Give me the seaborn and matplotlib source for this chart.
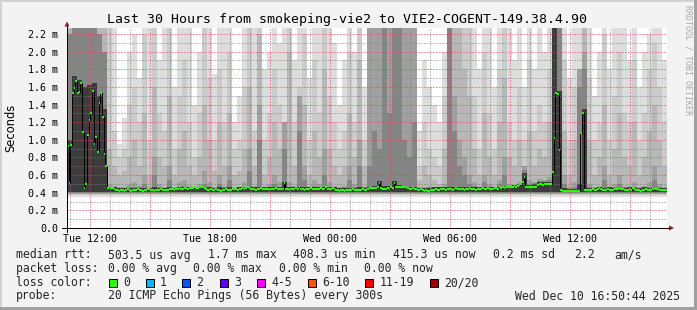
import numpy as np
import matplotlib
matplotlib.use("Agg")
import matplotlib.pyplot as plt
from matplotlib.patches import Rectangle, Polygon
from matplotlib.lines import Line2D
from matplotlib.ticker import MultipleLocator, FuncFormatter
import seaborn as sns

sns.set_style("white")
plt.rcParams['font.family'] = ['DejaVu Sans Mono', 'DejaVu Sans']

# ---------------- data ----------------
title = "Last 30 Hours from smokeping-vie2 to VIE2-COGENT-149.38.4.90"
start_hour = 10 + 50 / 60          # Tue 10:50, hours since Tue 00:00
span_hours = 30
median_step_h = 5 / 60
smoke_step_h = 15 / 60

x_tick_hours = [12, 18, 24, 30, 36]
x_tick_labels = ["Tue 12:00", "Tue 18:00", "Wed 00:00", "Wed 06:00", "Wed 12:00"]
y_tick_values = [0.0, 0.2, 0.4, 0.6, 0.8, 1.0, 1.2, 1.4, 1.6, 1.8, 2.0, 2.2]
y_tick_labels = ["0.0", "0.2 m", "0.4 m", "0.6 m", "0.8 m", "1.0 m", "1.2 m",
                 "1.4 m", "1.6 m", "1.8 m", "2.0 m", "2.2 m"]

# median rtt in ms, one value per 5 minutes
median_ms = [
    0.93, 0.51, 0.94, 1.53, 1.59, 1.67, 1.53, 1.54, 1.64, 1.09, 0.45, 0.50, 1.05, 1.22, 1.30, 1.55, 0.95, 1.03, 0.86, 1.42, 1.53, 1.26, 0.84, 0.70, 0.45,
    0.46, 0.45, 0.45, 0.44, 0.43,
    0.43, 0.42, 0.43, 0.43, 0.42, 0.43, 0.44, 0.43, 0.42, 0.43,
    0.43, 0.43, 0.44, 0.43, 0.43, 0.42, 0.43, 0.43, 0.44, 0.44, 0.43, 0.43, 0.42, 0.43, 0.43, 0.43, 0.44, 0.43, 0.43, 0.43,
    0.43, 0.44, 0.44, 0.44, 0.43, 0.44, 0.44, 0.45, 0.44, 0.44, 0.45, 0.45, 0.44, 0.45, 0.45, 0.45, 0.46, 0.45, 0.45, 0.46,
    0.46, 0.46, 0.45, 0.44, 0.43, 0.43, 0.44, 0.43, 0.43, 0.44, 0.43, 0.43, 0.42, 0.43, 0.43, 0.44, 0.43, 0.43, 0.43, 0.44,
    0.44, 0.44, 0.43, 0.44, 0.44, 0.45, 0.44, 0.45, 0.46, 0.45, 0.44, 0.44, 0.44, 0.43, 0.44, 0.44, 0.45, 0.44, 0.44, 0.44,
    0.44, 0.43, 0.44, 0.44, 0.44, 0.45, 0.44, 0.44, 0.44, 0.44, 0.51, 0.44, 0.44, 0.43, 0.44, 0.44, 0.44, 0.45, 0.44, 0.46,
    0.44, 0.44, 0.43, 0.44, 0.44, 0.44, 0.45, 0.44, 0.44, 0.44, 0.44, 0.44, 0.45, 0.44, 0.44, 0.46, 0.44, 0.44, 0.44, 0.45,
    0.44, 0.43, 0.43, 0.42, 0.43, 0.43, 0.42, 0.43, 0.43, 0.43, 0.43, 0.44, 0.43, 0.43, 0.43, 0.43, 0.43, 0.44, 0.43, 0.43,
    0.44, 0.45, 0.45, 0.45, 0.45, 0.45, 0.46, 0.51, 0.45, 0.44, 0.44, 0.44, 0.45, 0.44, 0.46, 0.45, 0.51, 0.47, 0.47, 0.47,
    0.47, 0.46, 0.47, 0.46, 0.45, 0.44, 0.44, 0.45, 0.44, 0.44, 0.43, 0.43, 0.44, 0.43, 0.42, 0.43, 0.42, 0.42, 0.43, 0.43,
    0.43, 0.44, 0.43, 0.43, 0.44, 0.44, 0.44, 0.43, 0.44, 0.44, 0.44, 0.43, 0.44, 0.45, 0.44, 0.44, 0.44, 0.44, 0.43, 0.44,
    0.44, 0.45, 0.44, 0.44, 0.44, 0.43, 0.44, 0.44, 0.44, 0.45, 0.44, 0.44, 0.45, 0.44, 0.44, 0.44, 0.45, 0.45, 0.44, 0.46,
    0.45, 0.46, 0.45, 0.47, 0.46, 0.47, 0.47, 0.46, 0.48, 0.47, 0.48, 0.49, 0.50, 0.525, 0.58, 0.46, 0.46, 0.46, 0.47, 0.46,
    0.46, 0.47, 0.49, 0.50, 0.50, 0.49, 0.50, 0.50, 0.50, 0.50, 0.50, 0.63, 1.02, 1.53, 1.52, 0.89, 0.43, 0.42, 0.42, 0.42,
    0.42, 0.42, 0.42, 0.42, 0.42, 0.42, 0.42, 0.42, 1.08, 1.30, 0.43, 0.43, 0.43, 0.43, 0.43, 0.44, 0.43, 0.43, 0.44, 0.45,
    0.44, 0.43, 0.43, 0.43, 0.44, 0.43, 0.43, 0.43, 0.44, 0.44, 0.44, 0.45, 0.44, 0.44, 0.43, 0.43, 0.43, 0.44, 0.43, 0.45,
    0.44, 0.43, 0.43, 0.43, 0.42, 0.43, 0.43, 0.44, 0.43, 0.43, 0.43, 0.44, 0.45, 0.44, 0.44, 0.43, 0.43, 0.43, 0.43, 0.43,
]

# smoke (ping spread) upper bounds in ms, one value per 15 minutes
smoke_max = [
    2.5, 2.5, 2.5, 2.5, 2.5, 2.5, 2.5, 2.5,
    2.5, 2.5, 0.95, 1.25, 2.0, 2.2, 1.7, 2.5, 2.5, 2.5, 1.9, 2.5, 2.5, 1.6, 2.5, 2.5, 2.5, 1.4, 2.0, 2.5, 2.5, 1.75, 2.5,
    2.5, 2.5, 1.2, 1.5, 2.5, 2.5, 2.5, 2.5, 1.8, 2.0, 2.5, 2.1, 2.5, 2.5, 1.9, 2.5, 2.5, 1.7, 2.5, 2.5, 2.5, 2.5, 2.1, 1.4, 1.9, 2.5, 2.0, 2.5, 1.6,
    2.5, 2.5, 2.5, 2.5, 2.5, 2.5, 2.5, 2.5, 2.5, 2.5,
    1.1, 1.9, 1.6, 1.4, 1.2, 2.0,
    2.5, 2.5, 2.5, 2.5, 2.5,
    2.5, 1.8, 2.5, 2.5, 1.6, 2.5, 2.5, 2.5, 1.9, 2.5,
    1.6, 2.5, 1.8, 2.5, 2.0, 2.5, 2.5, 2.5, 2.5, 1.7, 2.5, 2.5, 2.5, 2.5, 1.5, 2.0, 2.5, 1.8, 2.5, 2.5, 2.5, 1.9, 2.5, 1.6, 2.0, 2.2, 2.5, 2.5, 1.9,
]
smoke_q2 = [
    2.5, 2.5, 2.5, 2.5, 2.5, 2.5, 2.5, 2.5,
    2.5, 1.1, 0.8, 0.9, 1.4, 1.6, 1.2, 2.2, 1.0, 2.5, 1.3, 1.1, 2.5, 0.9, 1.5, 1.9, 1.2, 0.8, 1.3, 2.4, 1.7, 1.0, 1.8,
    1.2, 2.0, 0.9, 1.0, 1.6, 2.3, 1.1, 2.5, 1.0, 1.3, 1.8, 1.4, 1.0, 2.5, 1.2, 1.6, 2.2, 1.0, 1.9, 1.3, 2.5, 1.5, 1.2, 0.9, 1.1, 2.0, 1.2, 2.5, 1.0,
    2.5, 2.5, 2.5, 2.5, 2.5, 2.5, 2.5, 2.5, 2.5, 2.5,
    0.7, 1.2, 0.9, 0.8, 0.7, 1.5,
    2.5, 2.5, 2.5, 2.5, 2.5,
    1.5, 0.9, 2.0, 1.3, 0.9, 1.8, 2.5, 1.2, 1.0, 1.6,
    1.0, 1.9, 1.1, 1.4, 1.2, 1.8, 2.5, 2.5, 1.9, 1.0, 1.6, 1.3, 2.5, 1.7, 1.0, 1.2, 2.2, 1.0, 1.5, 2.0, 1.3, 1.2, 1.9, 1.0, 1.3, 1.8, 2.1, 1.6, 1.2,
]
smoke_q3 = [
    2.5, 2.5, 2.5, 2.5, 2.5, 2.5, 2.5, 2.5,
    0.9, 0.7, 0.6, 0.65, 0.8, 1.0, 0.7, 1.3, 0.6, 1.6, 0.8, 0.7, 1.5, 0.6, 0.9, 1.1, 0.7, 0.6, 0.8, 1.4, 1.0, 0.65, 1.2,
    0.7, 1.3, 0.6, 0.65, 0.9, 1.6, 0.7, 2.2, 0.6, 0.8, 1.2, 0.9, 0.6, 2.0, 0.7, 1.0, 1.4, 0.6, 1.1, 0.8, 1.8, 0.9, 0.7, 0.6, 0.7, 1.3, 0.8, 1.9, 0.7,
    2.5, 2.5, 2.5, 2.5, 2.5, 2.5, 2.5, 2.5, 2.5, 2.5,
    0.55, 0.7, 0.6, 0.55, 0.5, 0.9,
    2.5, 2.5, 2.5, 1.8, 1.5,
    0.9, 0.6, 1.3, 0.8, 0.6, 1.2, 1.7, 0.8, 0.7, 1.0,
    0.7, 1.1, 0.7, 0.9, 0.8, 1.2, 2.5, 2.5, 1.1, 0.6, 1.0, 0.8, 2.5, 1.0, 0.6, 0.8, 1.4, 0.6, 0.9, 1.3, 0.8, 0.7, 1.2, 0.6, 0.8, 1.1, 1.4, 1.0, 0.7,
]
smoke_q4 = [
    1.9, 2.5, 2.5, 2.1, 2.5, 2.5, 2.0, 1.8,
    0.5, 0.48, 0.47, 0.47, 0.5, 0.52, 0.48, 0.6, 0.47, 0.8, 0.5, 0.47, 0.7, 0.47, 0.52, 0.55, 0.48, 0.47, 0.5, 0.65, 0.52, 0.47, 0.6,
    0.48, 0.7, 0.47, 0.47, 0.52, 0.9, 0.48, 1.4, 0.47, 0.5, 0.6, 0.52, 1.2, 0.52, 0.48, 1.5, 0.7, 0.47, 0.55, 0.5, 0.9, 0.52, 0.48, 0.47, 0.48, 0.7, 0.5, 1.0, 0.48,
    2.5, 2.5, 2.5, 2.5, 2.5, 2.5, 2.5, 2.5, 2.5, 2.5,
    0.46, 0.47, 0.47, 0.46, 0.46, 0.5,
    2.5, 1.5, 1.0, 0.8, 0.6,
    0.52, 0.47, 0.6, 0.5, 0.47, 0.55, 0.8, 0.5, 0.48, 0.52,
    0.7, 0.55, 0.52, 0.56, 0.55, 0.58, 2.5, 2.5, 0.6, 0.47, 0.52, 1.8, 2.0, 0.5, 0.47, 0.48, 0.7, 0.47, 0.5, 0.6, 0.48, 0.47, 0.52, 0.47, 0.48, 0.52, 0.7, 0.5, 0.47,
]
smoke_q5 = [
    2.2, 2.5, 2.5, 2.3, 2.5, 2.5, 2.2, 2.0,
    0.47, 0.46, 0.45, 0.45, 0.46, 0.47, 0.46, 0.5, 0.45, 0.6, 0.46, 0.45, 0.55, 0.45, 0.47, 0.48, 0.46, 0.45, 0.46, 0.5, 0.47, 0.45, 0.5,
    0.46, 0.55, 0.45, 0.46, 0.47, 0.65, 0.46, 1.0, 0.46, 0.46, 0.5, 0.47, 0.9, 0.47, 0.46, 1.1, 0.55, 0.46, 0.48, 0.46, 0.6, 0.47, 0.46, 0.45, 0.46, 0.55, 0.46, 0.7, 0.46,
    0.7, 1.1, 0.9, 2.5, 1.3, 2.5, 2.5, 1.0, 0.8, 1.2,
    0.45, 0.45, 0.46, 0.45, 0.45, 0.47,
    2.5, 1.1, 0.7, 0.6, 0.5,
    0.48, 0.46, 0.52, 0.47, 0.46, 0.5, 0.6, 0.48, 0.48, 0.5,
    0.66, 0.5, 0.51, 0.53, 0.53, 0.54, 2.5, 2.5, 0.5, 0.45, 0.46, 1.6, 1.8, 0.46, 0.45, 0.46, 0.55, 0.45, 0.46, 0.5, 0.46, 0.45, 0.47, 0.45, 0.46, 0.47, 0.55, 0.46, 0.45,
]
smoke_core = [
    1.0, 1.72, 1.68, 1.6, 1.62, 1.65, 1.5, 1.35,
    0.47, 0.46, 0.45, 0.45, 0.45, 0.45, 0.45, 0.45, 0.45, 0.46, 0.45, 0.45, 0.46, 0.45, 0.46, 0.47, 0.46, 0.45, 0.45, 0.45, 0.46, 0.45, 0.46,
    0.45, 0.46, 0.45, 0.46, 0.46, 0.47, 0.46, 0.46, 0.46, 0.46, 0.46, 0.46, 0.52, 0.46, 0.46, 0.47, 0.46, 0.46, 0.46, 0.46, 0.47, 0.46, 0.46, 0.45, 0.45, 0.45, 0.45, 0.46, 0.45,
    0.47, 0.48, 0.53, 0.48, 0.48, 0.53, 0.49, 0.48, 0.47, 0.46,
    0.45, 0.45, 0.45, 0.46, 0.46, 0.46,
    0.47, 0.46, 0.46, 0.46, 0.46,
    0.46, 0.46, 0.47, 0.46, 0.47, 0.47, 0.48, 0.48, 0.49, 0.50,
    0.62, 0.49, 0.50, 0.52, 0.52, 0.52, 2.3, 1.55, 0.45, 0.44, 0.44, 0.5, 1.35, 0.45, 0.45, 0.46, 0.45, 0.46, 0.45, 0.45, 0.45, 0.46, 0.45, 0.45, 0.46, 0.45, 0.45, 0.45, 0.45,
]
smoke_floor = [0.355, 0.37, 0.385, 0.395, 0.40, 0.405]

stat_names = ["median rtt:", "packet loss:", "loss color:", "probe:"]
rtt_fields = ["503.5 us avg", "1.7 ms max", "408.3 us min", "415.3 us now", "0.2 ms sd", "2.2", "am/s"]
loss_fields = ["0.00 % avg", "0.00 % max", "0.00 % min", "0.00 % now"]
loss_color_labels = ["0", "1", "2", "3", "4-5", "6-10", "11-19", "20/20"]
probe_text = "20 ICMP Echo Pings (56 Bytes) every 300s"
timestamp = "Wed Dec 10 16:50:44 2025"
watermark = "RRDTOOL / TOBI OETIKER"

# ---------------- style / layout ----------------
W, H = 697, 310
loss_colors = ['#26ff00', '#00b8ff', '#0059ff', '#5e00ff', '#ff00fe', '#ff5500', '#ff0000', '#a10000']
smoke_colors = ['#dddddd', '#cbcbcb', '#b7b7b7', '#a0a0a0', '#858585', '#3c3c3c']
rtt_x = [107.6, 207.6, 293.4, 393.4, 493.4, 574.0, 614.7]
loss_x = [107.6, 193.4, 279.2, 364.5]
swatch_x = [108.5, 145.8, 182.2, 219.6, 256.9, 307.6, 365.4, 430.3]
label_x = [123.6, 160.0, 196.5, 233.8, 271.1, 321.8, 380.0, 444.5]
row_y = [255, 268.5, 282.5, 296]
px_per_ms = 88.18


def fx(x):
    return x / W


def fy(y):
    return 1 - y / H


fig = plt.figure(figsize=(W / 100, H / 100), dpi=100, facecolor='#f3f3f3')
ax = fig.add_axes([fx(67), fy(228), 600 / W, 200 / H])
ax.set_facecolor('white')

# smoke layers
n_s = len(smoke_max)
t_s = start_hour + smoke_step_h * np.arange(n_s + 1)
layers = [smoke_max, smoke_q2, smoke_q3, smoke_q4, smoke_q5, smoke_core]
for vals, low, col in zip(layers, smoke_floor, smoke_colors):
    v = np.append(np.asarray(vals, float), vals[-1])
    ax.fill_between(t_s, low, v, step='post', color=col, linewidth=0, zorder=1)

# median line
n_m = len(median_ms)
t_m = start_hour + median_step_h * np.arange(n_m + 1)
m_ext = np.append(np.asarray(median_ms, float), median_ms[-1])
sns.lineplot(x=t_m, y=m_ext, drawstyle='steps-post', color='black', linewidth=0.72,
             ax=ax, zorder=3, estimator=None, sort=False)
ax.hlines(median_ms, t_m[:-1], t_m[1:], colors=loss_colors[0], linewidth=1.5, zorder=4)

ax.set_xlim(start_hour, start_hour + span_hours)
ax.set_ylim(0, 200 / px_per_ms)

# grid & ticks
xlab = dict(zip(x_tick_hours, x_tick_labels))
ylab = {round(v, 1): l for v, l in zip(y_tick_values, y_tick_labels)}
ax.xaxis.set_major_locator(MultipleLocator(3))
ax.xaxis.set_minor_locator(MultipleLocator(1))
ax.yaxis.set_major_locator(MultipleLocator(0.2))
ax.yaxis.set_minor_locator(MultipleLocator(0.1))
ax.xaxis.set_major_formatter(FuncFormatter(lambda v, p: xlab.get(int(round(v)), '')))
ax.yaxis.set_major_formatter(FuncFormatter(lambda v, p: ylab.get(round(v, 1), '')))
ax.set_axisbelow(False)
ax.grid(which='major', color=(0.9, 0.25, 0.25, 0.35), linestyle=(0, (1, 2)), linewidth=0.72)
ax.grid(which='minor', color=(0.5, 0.5, 0.5, 0.3), linestyle=(0, (1, 2)), linewidth=0.72)
ax.tick_params(axis='y', which='major', direction='out', length=2.5, width=0.72, pad=4,
               labelsize=7.2, colors='black')
ax.tick_params(axis='y', which='minor', length=0)
ax.tick_params(axis='x', which='major', direction='inout', length=4, width=0.72, pad=2,
               labelsize=7.2, colors='black')
ax.tick_params(axis='x', which='minor', direction='inout', length=2, width=0.72)
for s in ['top', 'right']:
    ax.spines[s].set_visible(False)
for s in ['left', 'bottom']:
    ax.spines[s].set_color('black')
    ax.spines[s].set_linewidth(0.72)
    ax.spines[s].set_zorder(5)

# axis extensions and arrows
fig.add_artist(Line2D([fx(62), fx(669)], [fy(228), fy(228)], color='black', lw=0.72))
fig.add_artist(Line2D([fx(67), fx(67)], [fy(232), fy(26)], color='black', lw=0.72))
fig.add_artist(Polygon([(fx(669), fy(225.5)), (fx(674), fy(228)), (fx(669), fy(230.5))],
                       closed=True, color='#8b1a1a', lw=0))
fig.add_artist(Polygon([(fx(64.5), fy(26.5)), (fx(67), fy(21.5)), (fx(69.5), fy(26.5))],
                       closed=True, color='#8b1a1a', lw=0))

# texts
fig.text(fx(347), fy(19), title, ha='center', va='center', fontsize=9.5, color='black')
fig.text(fx(10.5), fy(128), "Seconds", rotation=90, ha='center', va='center',
         fontsize=8.3, family='DejaVu Sans', color='black')
fig.text(fx(688), fy(60), watermark, rotation=270, ha='center', va='center',
         fontsize=6, color='#a8a8a8')

fs = 8.3
for name, y in zip(stat_names, row_y):
    fig.text(fx(16), fy(y), name, ha='left', va='center', fontsize=fs)
for s, x in zip(rtt_fields, rtt_x):
    fig.text(fx(x), fy(row_y[0]), s, ha='left', va='center', fontsize=fs)
for s, x in zip(loss_fields, loss_x):
    fig.text(fx(x), fy(row_y[1]), s, ha='left', va='center', fontsize=fs)
for lab, col, sx, lx in zip(loss_color_labels, loss_colors, swatch_x, label_x):
    fig.add_artist(Rectangle((fx(sx), fy(row_y[2] + 4)), 8 / W, 8 / H, facecolor=col,
                             edgecolor='black', linewidth=0.72))
    fig.text(fx(lx), fy(row_y[2]), lab, ha='left', va='center', fontsize=fs)
fig.text(fx(107.6), fy(row_y[3]), probe_text, ha='left', va='center', fontsize=fs)
fig.text(fx(680), fy(row_y[3]), timestamp, ha='right', va='center', fontsize=fs)

# frame
fig.add_artist(Rectangle((0, fy(2)), 1, 2 / H, facecolor='#d2d2d2', edgecolor='none'))
fig.add_artist(Rectangle((0, 0), 2 / W, 1, facecolor='#d2d2d2', edgecolor='none'))
fig.add_artist(Rectangle((0, 0), 1, 3 / H, facecolor='#a0a0a0', edgecolor='none'))
fig.add_artist(Rectangle((fx(694), 0), 3 / W, 1, facecolor='#a0a0a0', edgecolor='none'))

fig.savefig("out.png", dpi=100, facecolor=fig.get_facecolor())
